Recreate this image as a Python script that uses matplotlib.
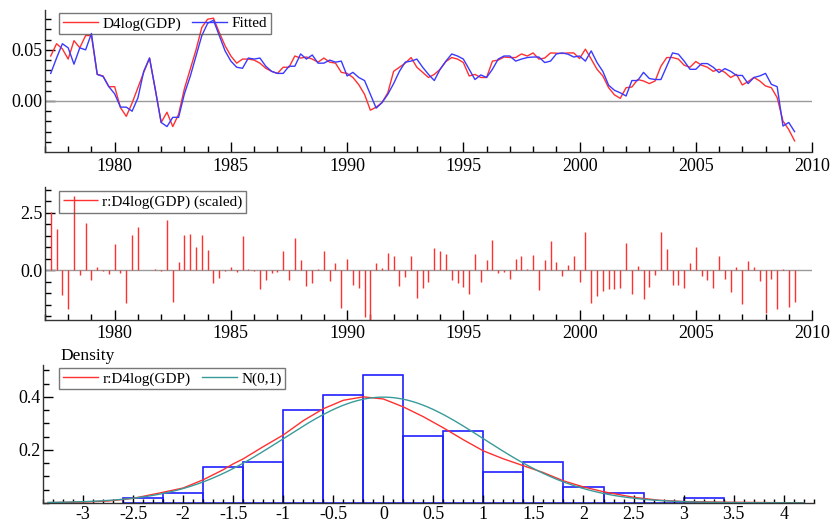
import numpy as np
import matplotlib
matplotlib.use("Agg")
import matplotlib.pyplot as plt
from matplotlib.ticker import MultipleLocator, FormatStrFormatter

plt.rcParams['font.family'] = ['Liberation Serif', 'DejaVu Serif']
plt.rcParams['axes.unicode_minus'] = False

# quarterly data, 1977Q2 .. 2009Q2
start_year = 1977.25
d4log_gdp = [
    0.044, 0.056, 0.051, 0.041, 0.059, 0.052, 0.064, 0.064, 0.026, 0.0245,
    0.014, 0.014, -0.0065, -0.015, -0.002, 0.013, 0.028, 0.042, 0.011, -0.021,
    -0.011, -0.025, -0.013, 0.012, 0.031, 0.050, 0.072, 0.080, 0.081, 0.067,
    0.054, 0.044, 0.037, 0.041, 0.041, 0.040, 0.037, 0.032, 0.029, 0.027,
    0.033, 0.033, 0.044, 0.042, 0.043, 0.041, 0.038, 0.042, 0.038, 0.037,
    0.028, 0.027, 0.023, 0.016, 0.0065, -0.009, -0.006, -0.0016, 0.008, 0.029,
    0.033, 0.037, 0.0425, 0.033, 0.028, 0.023, 0.026, 0.031, 0.0386, 0.0425,
    0.041, 0.0376, 0.0245, 0.026, 0.023, 0.023, 0.039, 0.040, 0.043, 0.0425,
    0.0425, 0.046, 0.044, 0.047, 0.041, 0.042, 0.047, 0.0467, 0.0465, 0.047,
    0.047, 0.0415, 0.0507, 0.041, 0.031, 0.0245, 0.013, 0.006, 0.0026, 0.013,
    0.0137, 0.021, 0.0196, 0.017, 0.0196, 0.034, 0.0425, 0.0425, 0.041, 0.035,
    0.033, 0.0386, 0.035, 0.033, 0.029, 0.031, 0.028, 0.023, 0.026, 0.0157,
    0.019, 0.023, 0.0196, 0.0147, 0.013, 0.0033, -0.0196, -0.028, -0.039,
]
fitted = [
    0.027, 0.042, 0.056, 0.052, 0.036, 0.052, 0.050, 0.066, 0.026, 0.024,
    0.014, 0.007, -0.006, -0.006, -0.010, 0.003, 0.029, 0.042, 0.011, -0.021,
    -0.025, -0.016, -0.016, 0.007, 0.024, 0.044, 0.064, 0.076, 0.079, 0.064,
    0.049, 0.039, 0.033, 0.032, 0.042, 0.041, 0.042, 0.034, 0.029, 0.027,
    0.027, 0.034, 0.034, 0.046, 0.041, 0.045, 0.037, 0.037, 0.040, 0.038,
    0.039, 0.0245, 0.028, 0.023, 0.020, 0.0065, -0.007, -0.0016, 0.0065, 0.017,
    0.029, 0.038, 0.039, 0.041, 0.033, 0.026, 0.020, 0.031, 0.039, 0.046,
    0.044, 0.041, 0.031, 0.021, 0.0255, 0.023, 0.031, 0.041, 0.044, 0.044,
    0.039, 0.041, 0.0425, 0.043, 0.043, 0.0376, 0.039, 0.046, 0.047, 0.0458,
    0.043, 0.044, 0.039, 0.049, 0.0376, 0.029, 0.0154, 0.0105, 0.008, 0.0049,
    0.020, 0.020, 0.028, 0.022, 0.021, 0.021, 0.034, 0.047, 0.0458, 0.039,
    0.031, 0.031, 0.0366, 0.0366, 0.033, 0.0278, 0.0317, 0.029, 0.025, 0.025,
    0.017, 0.023, 0.0245, 0.027, 0.0163, 0.014, -0.0245, -0.021, -0.030,
]
resid_scaled = [
    2.53, 1.81, -1.06, -1.68, 3.2, -0.2, 2.03, -0.42, 0.14, -0.04,
    -0.15, 1.14, -0.12, -1.42, 1.52, 1.88, 0.03, 0.03, 0.07, -0.04,
    2.19, -1.38, 0.36, 1.51, 1.58, 1.0, 1.54, 0.86, -0.57, -0.32,
    -0.04, 0.14, -0.07, 1.47, 0.07, -0.04, -0.83, -0.43, -0.1, -0.07,
    0.83, -0.43, 1.39, 0.43, -0.69, -0.57, 0.04, 0.82, -0.46, 0.32,
    -1.65, 0.5, -0.65, -0.75, -2.04, -2.26, 0.33, 0.09, 0.75, 0.6,
    -0.68, -0.29, 0.6, -1.22, -0.75, -0.53, 0.96, 0.82, 0.72, -0.43,
    -0.55, -0.72, -1.05, 0.69, -0.53, 0.43, 1.32, -0.14, -0.07, -0.39,
    0.5, 0.62, 0.07, 0.65, -0.86, 0.43, 1.26, 0.36, -0.24, 0.22,
    0.6, -0.53, 1.68, -1.41, -1.11, -0.9, -0.82, -0.82, -0.79, 1.18,
    -1.03, 0.17, -1.26, -0.72, -0.22, 1.65, 0.93, -0.62, -0.62, -0.79,
    0.33, 1.0, -0.26, -0.43, -0.75, 0.62, -0.39, -0.96, 0.14, -1.47,
    0.4, 0.14, -0.47, -1.84, -0.36, -1.7, 0.05, -1.6, -1.38,
]

# histogram of scaled residuals (density)
hist_left = [-2.6, -2.2, -1.8, -1.4, -1.0, -0.6, -0.2, 0.2, 0.6, 1.0,
             1.4, 1.8, 2.2, 2.6, 3.0]
hist_density = [0.019, 0.039, 0.136, 0.155, 0.349, 0.407, 0.484, 0.252,
                0.271, 0.116, 0.155, 0.058, 0.039, 0.0, 0.019]
bin_width = 0.4

# estimated density of residuals
kde_x = [-3.35, -3.0, -2.75, -2.5, -2.25, -2.0, -1.8, -1.6, -1.5, -1.4,
         -1.2, -1.0, -0.8, -0.6, -0.4, -0.2, 0.0, 0.2, 0.4, 0.6,
         0.8, 1.0, 1.2, 1.4, 1.6, 1.8, 2.0, 2.2, 2.5, 2.75,
         3.0, 3.4, 4.0, 4.2]
kde_y = [0.0008, 0.003, 0.007, 0.017, 0.036, 0.056, 0.087, 0.125, 0.147, 0.166,
         0.212, 0.256, 0.31, 0.355, 0.387, 0.400, 0.392, 0.362, 0.325, 0.283,
         0.238, 0.196, 0.166, 0.140, 0.114, 0.083, 0.060, 0.042, 0.021, 0.010,
         0.005, 0.0025, 0.0005, 0.0003]

years = start_year + 0.25 * np.arange(len(d4log_gdp))

red = '#ff3030'
blue = '#3a3aff'
teal = '#3a9a9a'
grey = '#9a9a9a'


def style_axes(ax):
    for s in ['top', 'right']:
        ax.spines[s].set_visible(False)
    for s in ['left', 'bottom']:
        ax.spines[s].set_linewidth(1.0)
        ax.spines[s].set_color('#333333')
    ax.tick_params(which='both', direction='in', labelsize=13, colors='black')
    ax.tick_params(which='major', length=7, width=1)
    ax.tick_params(which='minor', length=4, width=1)
    ax.tick_params(axis='y', pad=2)
    ax.tick_params(axis='x', pad=4)


def make_legend(ax, anchor, ncol):
    leg = ax.legend(loc='upper left', bbox_to_anchor=anchor, ncol=ncol,
                    fontsize=11, frameon=True, fancybox=False,
                    handlelength=2.3, handletextpad=0.3, columnspacing=0.7,
                    borderpad=0.25, borderaxespad=0)
    leg.get_frame().set_facecolor('none')
    leg.get_frame().set_edgecolor('#555555')
    leg.get_frame().set_linewidth(1.0)
    return leg


fig = plt.figure(figsize=(8.32, 5.26), dpi=100)

# panel 1: actual and fitted
ax1 = fig.add_axes([0.054, 0.711, 0.922, 0.270])
ax1.axhline(0, color=grey, lw=1)
ax1.plot(years, d4log_gdp, color=red, lw=1, label='D4log(GDP)')
ax1.plot(years, fitted, color=blue, lw=1, label='Fitted')
ax1.set_xlim(1977, 2010)
ax1.set_ylim(-0.0499, 0.089)
ax1.xaxis.set_major_locator(MultipleLocator(5))
ax1.xaxis.set_minor_locator(MultipleLocator(1))
ax1.set_yticks([0.0, 0.05])
ax1.yaxis.set_minor_locator(MultipleLocator(0.01))
ax1.yaxis.set_major_formatter(FormatStrFormatter('%.2f'))
style_axes(ax1)
make_legend(ax1, (0.018, 0.979), 2)

# panel 2: scaled residuals
ax2 = fig.add_axes([0.054, 0.392, 0.922, 0.252])
ax2.axhline(0, color=grey, lw=1)
ax2.vlines(years, 0, resid_scaled, color=red, lw=1, label='r:D4log(GDP) (scaled)')
ax2.set_xlim(1977, 2010)
ax2.set_ylim(-2.15, 3.6)
ax2.xaxis.set_major_locator(MultipleLocator(5))
ax2.xaxis.set_minor_locator(MultipleLocator(1))
ax2.set_yticks([0.0, 2.5])
ax2.yaxis.set_minor_locator(MultipleLocator(0.5))
ax2.yaxis.set_major_formatter(FormatStrFormatter('%.1f'))
style_axes(ax2)
make_legend(ax2, (0.018, 0.97), 1)

# panel 3: residual density
ax3 = fig.add_axes([0.0517, 0.044, 0.9263, 0.262])
ax3.bar(hist_left, hist_density, width=bin_width, align='edge', fill=False,
        edgecolor='#2020ff', lw=1.2)
ax3.plot(kde_x, kde_y, color=red, lw=1, label='r:D4log(GDP)')
xn = np.linspace(-3.35, 4.2, 300)
ax3.plot(xn, np.exp(-0.5 * xn ** 2) / np.sqrt(2 * np.pi), color=teal, lw=1,
         label='N(0,1)')
ax3.set_xlim(-3.4, 4.3)
ax3.set_ylim(0, 0.52)
ax3.xaxis.set_major_locator(MultipleLocator(0.5))
ax3.xaxis.set_minor_locator(MultipleLocator(0.1))
ax3.xaxis.set_major_formatter(FormatStrFormatter('%g'))
ax3.set_yticks([0.2, 0.4])
ax3.yaxis.set_minor_locator(MultipleLocator(0.05))
style_axes(ax3)
ax3.tick_params(axis='x', which='major', length=6, pad=2)
ax3.tick_params(axis='x', which='minor', length=3)
ax3.text(0.022, 1.01, 'Density', transform=ax3.transAxes, fontsize=12.5,
         va='bottom', ha='left')
make_legend(ax3, (0.021, 0.979), 2)

fig.savefig('out.png', dpi=100)
